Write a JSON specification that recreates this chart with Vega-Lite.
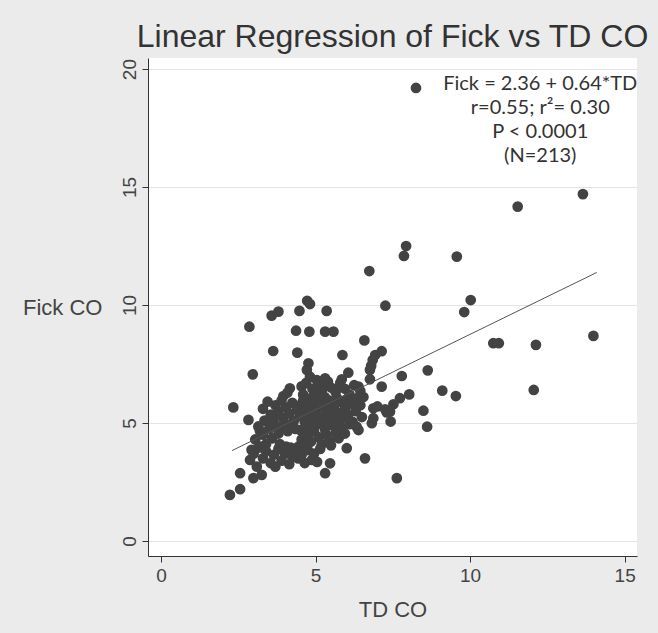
{
  "$schema": "https://vega.github.io/schema/vega-lite/v6.json",
  "width": 489,
  "height": 498,
  "autosize": {"type": "none"},
  "padding": {"left": 148, "top": 58, "right": 21, "bottom": 77},
  "background": "#ebebeb",
  "config": {"view": {"fill": "white", "stroke": null}, "font": "Liberation Sans"},
  "title": {"text": "Linear Regression of Fick vs TD CO", "fontSize": 32, "font": "Liberation Sans", "fontWeight": "normal", "color": "#333333", "anchor": "middle", "offset": 4},
  "datasets": {
    "pts": [
      {"td": 8.25, "fick": 19.2}, {"td": 13.65, "fick": 14.7}, {"td": 11.54, "fick": 14.17}, {"td": 7.93, "fick": 12.5},
      {"td": 7.86, "fick": 12.08}, {"td": 9.57, "fick": 12.05}, {"td": 6.74, "fick": 11.44}, {"td": 7.26, "fick": 9.97},
      {"td": 10.02, "fick": 10.21}, {"td": 9.81, "fick": 9.7}, {"td": 10.75, "fick": 8.38}, {"td": 10.93, "fick": 8.38},
      {"td": 12.13, "fick": 8.31}, {"td": 13.99, "fick": 8.69}, {"td": 12.06, "fick": 6.4}, {"td": 8.63, "fick": 7.23},
      {"td": 7.79, "fick": 6.99}, {"td": 7.14, "fick": 8.04}, {"td": 7.14, "fick": 6.54}, {"td": 9.1, "fick": 6.37},
      {"td": 9.54, "fick": 6.14}, {"td": 8.03, "fick": 6.21}, {"td": 7.73, "fick": 6.05}, {"td": 7.52, "fick": 5.79},
      {"td": 7.25, "fick": 5.58}, {"td": 7.43, "fick": 5.06}, {"td": 8.49, "fick": 5.52}, {"td": 8.61, "fick": 4.84},
      {"td": 7.63, "fick": 2.66}, {"td": 5.36, "fick": 9.75}, {"td": 5.31, "fick": 8.87}, {"td": 5.58, "fick": 8.87},
      {"td": 6.58, "fick": 8.5}, {"td": 5.87, "fick": 7.88}, {"td": 6.06, "fick": 7.13}, {"td": 6.93, "fick": 7.88},
      {"td": 6.85, "fick": 7.67}, {"td": 6.8, "fick": 7.42}, {"td": 6.76, "fick": 7.25}, {"td": 6.76, "fick": 6.85},
      {"td": 5.31, "fick": 6.89}, {"td": 5.79, "fick": 6.54}, {"td": 6.39, "fick": 6.54}, {"td": 2.86, "fick": 9.08},
      {"td": 3.58, "fick": 9.55}, {"td": 3.8, "fick": 9.72}, {"td": 4.48, "fick": 9.75}, {"td": 4.73, "fick": 10.18},
      {"td": 4.82, "fick": 10.04}, {"td": 4.37, "fick": 8.91}, {"td": 4.8, "fick": 8.87}, {"td": 3.63, "fick": 8.05},
      {"td": 4.41, "fick": 7.98}, {"td": 2.97, "fick": 7.06}, {"td": 4.77, "fick": 7.53}, {"td": 4.72, "fick": 7.25},
      {"td": 4.82, "fick": 6.96}, {"td": 5.04, "fick": 6.82}, {"td": 5.25, "fick": 6.68}, {"td": 4.17, "fick": 6.47},
      {"td": 2.34, "fick": 5.66}, {"td": 2.83, "fick": 5.13}, {"td": 4.09, "fick": 6.28}, {"td": 3.96, "fick": 6.14},
      {"td": 3.2, "fick": 4.67}, {"td": 3.69, "fick": 5.27}, {"td": 2.93, "fick": 3.86}, {"td": 2.88, "fick": 3.43},
      {"td": 3.1, "fick": 3.15}, {"td": 2.56, "fick": 2.87}, {"td": 3.26, "fick": 2.8}, {"td": 2.23, "fick": 1.95},
      {"td": 2.56, "fick": 2.19}, {"td": 2.99, "fick": 2.66}, {"td": 6.01, "fick": 3.93}, {"td": 6.6, "fick": 3.5},
      {"td": 5.47, "fick": 3.29}, {"td": 5.31, "fick": 2.87}, {"td": 6.87, "fick": 5.62}, {"td": 7.41, "fick": 5.48},
      {"td": 6.82, "fick": 4.99}, {"td": 6.87, "fick": 5.2}, {"td": 6.33, "fick": 4.84}, {"td": 4.44, "fick": 3.5},
      {"td": 4.88, "fick": 3.43}, {"td": 6.39, "fick": 4.7}, {"td": 7.0, "fick": 5.7}, {"td": 7.3, "fick": 5.45},
      {"td": 4.55, "fick": 6.55}, {"td": 4.7, "fick": 6.7}, {"td": 4.9, "fick": 6.45}, {"td": 5.1, "fick": 6.6},
      {"td": 5.2, "fick": 6.35}, {"td": 5.4, "fick": 6.75}, {"td": 5.5, "fick": 6.5}, {"td": 5.65, "fick": 6.3},
      {"td": 5.8, "fick": 6.7}, {"td": 5.95, "fick": 6.45}, {"td": 6.1, "fick": 6.2}, {"td": 6.25, "fick": 6.6},
      {"td": 6.45, "fick": 6.35}, {"td": 6.55, "fick": 6.1}, {"td": 4.6, "fick": 6.2}, {"td": 4.85, "fick": 6.05},
      {"td": 5.3, "fick": 6.1}, {"td": 5.7, "fick": 6.05}, {"td": 6.0, "fick": 6.0}, {"td": 6.35, "fick": 6.05},
      {"td": 5.05, "fick": 6.25}, {"td": 5.85, "fick": 6.85},
      {"td": 3.3, "fick": 5.6}, {"td": 3.45, "fick": 5.9}, {"td": 3.55, "fick": 5.35}, {"td": 3.7, "fick": 5.75},
      {"td": 3.8, "fick": 5.5}, {"td": 3.9, "fick": 5.95}, {"td": 3.95, "fick": 5.2}, {"td": 4.05, "fick": 5.65},
      {"td": 4.15, "fick": 5.4}, {"td": 4.25, "fick": 5.85}, {"td": 4.3, "fick": 5.1}, {"td": 4.4, "fick": 5.55},
      {"td": 4.5, "fick": 5.3}, {"td": 4.55, "fick": 5.8}, {"td": 4.65, "fick": 5.05}, {"td": 4.7, "fick": 5.6},
      {"td": 4.8, "fick": 5.35}, {"td": 4.9, "fick": 5.85}, {"td": 4.95, "fick": 5.15}, {"td": 5.0, "fick": 5.55},
      {"td": 5.1, "fick": 5.3}, {"td": 5.15, "fick": 5.9}, {"td": 5.25, "fick": 5.05}, {"td": 5.3, "fick": 5.65},
      {"td": 5.4, "fick": 5.4}, {"td": 5.45, "fick": 5.95}, {"td": 5.55, "fick": 5.15}, {"td": 5.6, "fick": 5.7},
      {"td": 5.7, "fick": 5.45}, {"td": 5.8, "fick": 5.9}, {"td": 5.85, "fick": 5.2}, {"td": 5.95, "fick": 5.6},
      {"td": 6.05, "fick": 5.35}, {"td": 6.15, "fick": 5.8}, {"td": 6.2, "fick": 5.05}, {"td": 6.3, "fick": 5.5},
      {"td": 6.45, "fick": 5.75}, {"td": 6.5, "fick": 5.25}, {"td": 3.35, "fick": 5.1}, {"td": 3.6, "fick": 5.05},
      {"td": 4.0, "fick": 5.0}, {"td": 4.6, "fick": 5.95}, {"td": 5.2, "fick": 5.75}, {"td": 5.75, "fick": 5.0},
      {"td": 6.35, "fick": 5.95},
      {"td": 3.05, "fick": 4.3}, {"td": 3.15, "fick": 4.85}, {"td": 3.3, "fick": 4.5}, {"td": 3.4, "fick": 4.1},
      {"td": 3.5, "fick": 4.75}, {"td": 3.6, "fick": 4.35}, {"td": 3.7, "fick": 4.9}, {"td": 3.8, "fick": 4.55},
      {"td": 3.85, "fick": 4.1}, {"td": 3.95, "fick": 4.8}, {"td": 4.1, "fick": 4.65}, {"td": 4.25, "fick": 4.9},
      {"td": 4.5, "fick": 4.7}, {"td": 4.55, "fick": 4.3}, {"td": 4.6, "fick": 4.05}, {"td": 4.7, "fick": 4.85},
      {"td": 4.75, "fick": 4.45}, {"td": 4.85, "fick": 4.2}, {"td": 4.95, "fick": 4.65}, {"td": 5.05, "fick": 4.95},
      {"td": 5.1, "fick": 4.4}, {"td": 5.2, "fick": 4.1}, {"td": 5.3, "fick": 4.75}, {"td": 5.35, "fick": 4.5},
      {"td": 5.45, "fick": 4.25}, {"td": 5.55, "fick": 4.9}, {"td": 5.65, "fick": 4.6}, {"td": 5.75, "fick": 4.35},
      {"td": 5.85, "fick": 4.8}, {"td": 5.95, "fick": 4.55}, {"td": 4.05, "fick": 4.0}, {"td": 4.45, "fick": 4.0},
      {"td": 3.25, "fick": 4.0}, {"td": 3.55, "fick": 4.95}, {"td": 4.35, "fick": 4.75}, {"td": 4.9, "fick": 4.95},
      {"td": 5.5, "fick": 4.05}, {"td": 6.1, "fick": 4.95},
      {"td": 3.0, "fick": 3.7}, {"td": 3.15, "fick": 3.95}, {"td": 3.3, "fick": 3.5}, {"td": 3.4, "fick": 3.8},
      {"td": 3.55, "fick": 3.3}, {"td": 3.65, "fick": 3.65}, {"td": 3.8, "fick": 3.9}, {"td": 3.9, "fick": 3.4},
      {"td": 4.0, "fick": 3.7}, {"td": 4.15, "fick": 3.25}, {"td": 4.25, "fick": 3.55}, {"td": 4.35, "fick": 3.85},
      {"td": 4.55, "fick": 3.65}, {"td": 4.65, "fick": 3.3}, {"td": 4.75, "fick": 3.85}, {"td": 4.95, "fick": 3.7},
      {"td": 5.05, "fick": 3.35}, {"td": 5.15, "fick": 3.9}, {"td": 3.7, "fick": 3.15}, {"td": 4.2, "fick": 3.95}
    ],
    "fit": [
      {"td": 2.3, "fick": 3.83},
      {"td": 14.1, "fick": 11.38}
    ]
  },
  "layer": [
    {
      "data": {"name": "pts"},
      "mark": {"type": "circle", "size": 115, "opacity": 1, "color": "#434343"},
      "encoding": {
        "x": {
          "field": "td", "type": "quantitative",
          "scale": {"domain": [-0.42, 15.4], "nice": false, "zero": false},
          "axis": {
            "values": [0, 5, 10, 15], "grid": false, "domainColor": "#333333", "tickColor": "#333333", "tickSize": 6,
            "labelFontSize": 19, "labelColor": "#444444", "labelPadding": 4, "labelFont": "Liberation Sans",
            "title": "TD CO", "titleFontSize": 22, "titleFontWeight": "normal", "titleColor": "#444444", "titlePadding": 14, "titleFont": "Liberation Sans"
          }
        },
        "y": {
          "field": "fick", "type": "quantitative",
          "scale": {"domain": [-0.64, 20.47], "nice": false, "zero": false},
          "axis": {
            "values": [0, 5, 10, 15, 20], "grid": true, "gridColor": "#e4e4e4", "domainColor": "#333333", "tickColor": "#333333", "tickSize": 6,
            "labelAngle": -90, "labelFontSize": 19, "labelColor": "#444444", "labelPadding": 3, "labelFont": "Liberation Sans",
            "title": "Fick CO", "titleAngle": 0, "titleFontSize": 22, "titleFontWeight": "normal", "titleColor": "#444444", "titleFont": "Liberation Sans",
            "titleX": -46, "titleY": 249, "titleAlign": "right", "titleBaseline": "middle"
          }
        }
      }
    },
    {
      "data": {"name": "fit"},
      "mark": {"type": "line", "color": "#555555", "strokeWidth": 1},
      "encoding": {
        "x": {"field": "td", "type": "quantitative"},
        "y": {"field": "fick", "type": "quantitative"}
      }
    },
    {
      "data": {"values": [{"label": "Fick =  2.36 + 0.64*TD\nr=0.55; r²= 0.30\nP < 0.0001\n(N=213)"}]},
      "mark": {"type": "text", "align": "center", "baseline": "top", "lineBreak": "\n", "lineHeight": 24, "font": "Lato", "fontSize": 20, "color": "#333333"},
      "encoding": {
        "x": {"datum": 12.27, "type": "quantitative"},
        "y": {"datum": 19.8, "type": "quantitative"},
        "text": {"field": "label", "type": "nominal"}
      }
    }
  ]
}
